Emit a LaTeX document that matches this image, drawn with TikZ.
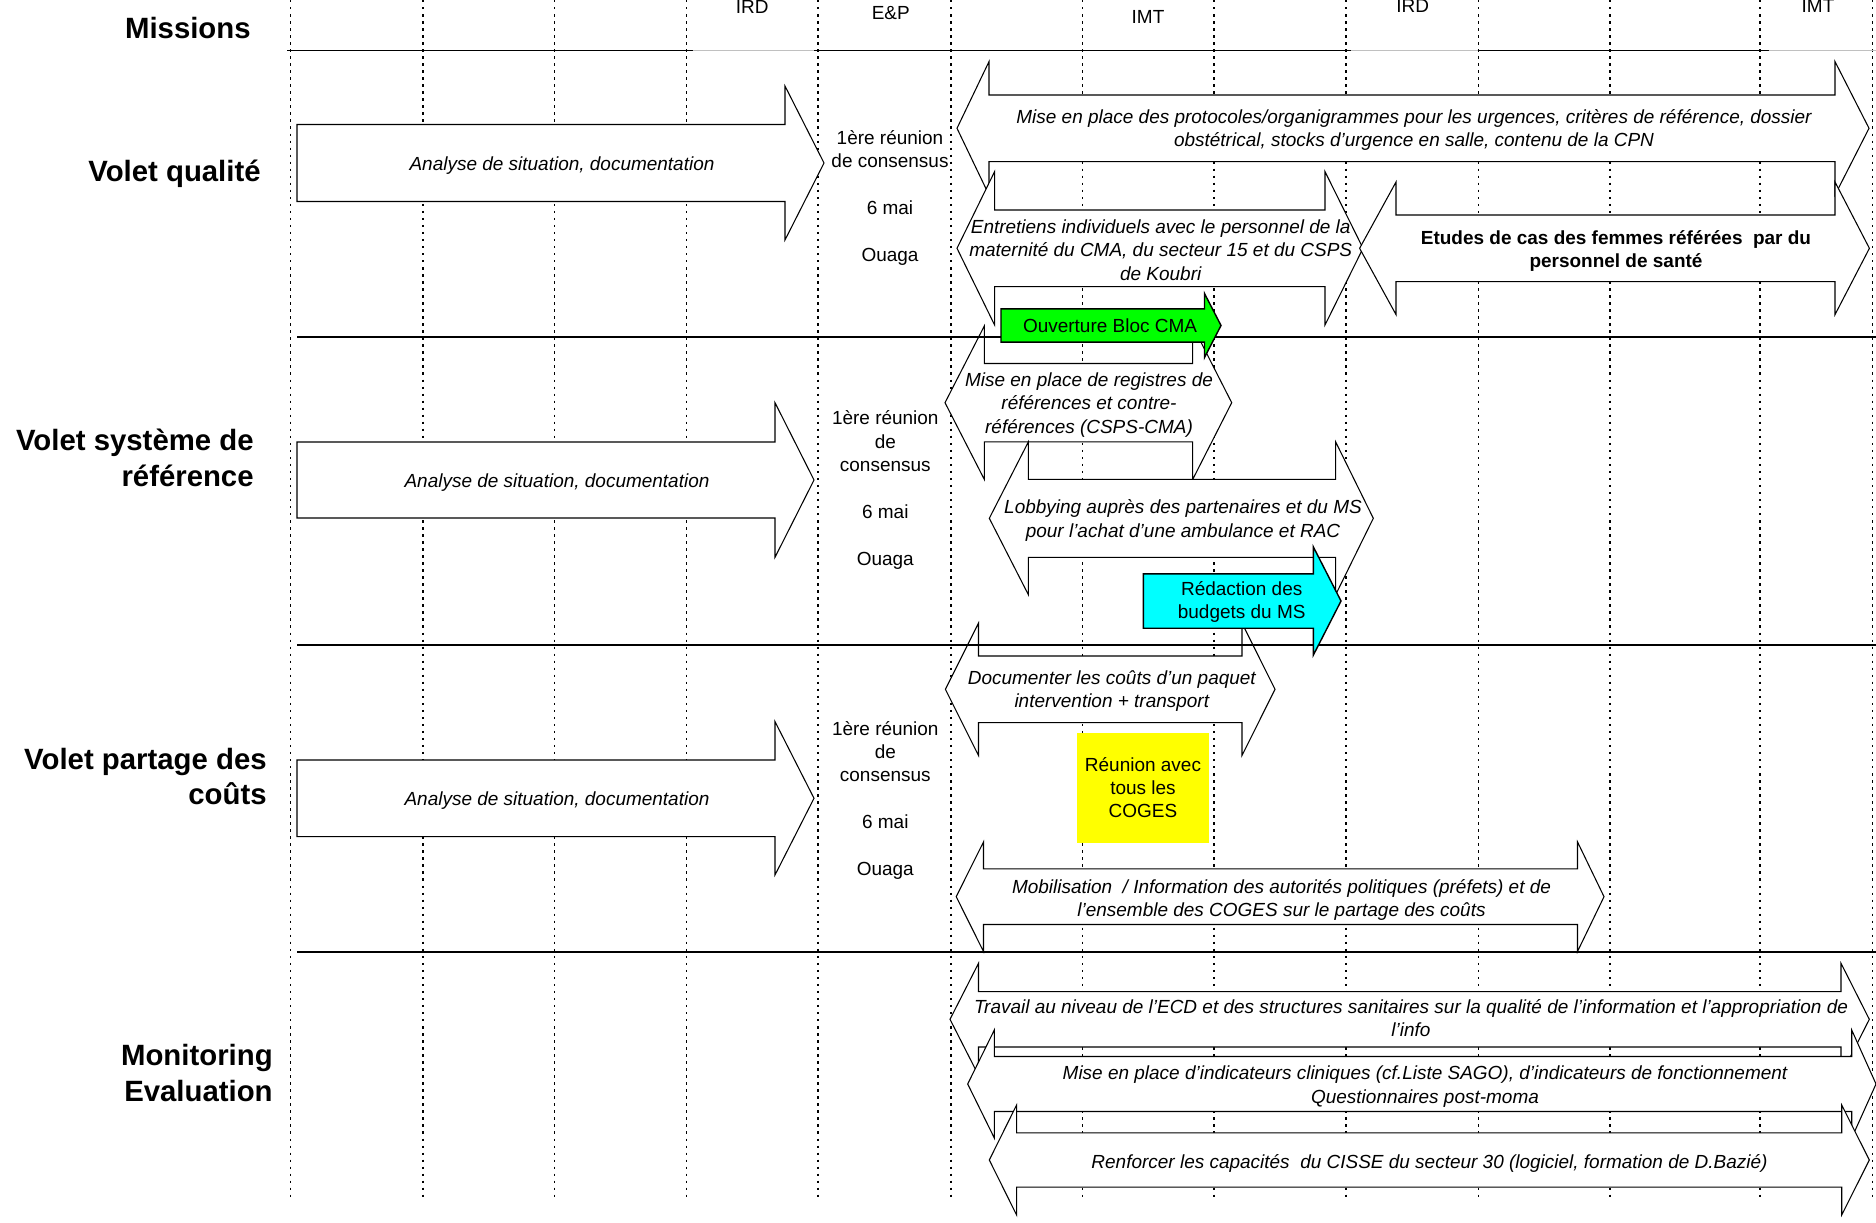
\documentclass[tikz,border=0pt]{standalone}
\usepackage{fontspec}
\setmainfont{Liberation Sans}
\usetikzlibrary{positioning}
\definecolor{flashgreen}{RGB}{0,255,0}
\definecolor{flashcyan}{RGB}{0,255,255}
\definecolor{flashyellow}{RGB}{255,255,0}
\definecolor{linegray}{RGB}{192,192,192}
% [options]{left x}{head base x}{tip x}{mid y}{shaft half}{head half}
\newcommand{\onearrow}[7][]{%
  \draw[arrowline,#1] ({#2},{#5-#6}) -- ({#3},{#5-#6}) -- ({#3},{#5-#7}) -- ({#4},{#5})
    -- ({#3},{#5+#7}) -- ({#3},{#5+#6}) -- ({#2},{#5+#6}) -- cycle;}
% [options]{left tip}{left base}{right base}{right tip}{mid y}{shaft half}{head half}
\newcommand{\twoarrow}[8][]{%
  \draw[arrowline,#1] ({#2},{#6}) -- ({#3},{#6-#8}) -- ({#3},{#6-#7}) -- ({#4},{#6-#7})
    -- ({#4},{#6-#8}) -- ({#5},{#6}) -- ({#4},{#6+#8}) -- ({#4},{#6+#7}) -- ({#3},{#6+#7})
    -- ({#3},{#6+#8}) -- cycle;}
\begin{document}
\begin{tikzpicture}[x=0.02cm, y=-0.02cm,
  arrowline/.style={draw=black, fill=white, line width=0.6pt},
  dotline/.style={line width=0.9pt, dash pattern=on 1.4pt off 2.6pt},
  header/.style={line width=1.1pt},
  section/.style={line width=1.1pt},
  small/.style={font=\fontsize{10.8}{13.3}\selectfont, align=center, inner sep=0pt},
  task/.style={small, font=\fontsize{10.8}{13.3}\selectfont\itshape},
  volet/.style={font=\fontsize{16.7}{20.4}\selectfont\bfseries, align=right, anchor=east, inner sep=0pt}]

\fill[white] (0,0) rectangle (1876,1223);
\useasboundingbox (0,0) rectangle (1876,1223);

\foreach \gx in {290.7,422.8,554.3,686.4,818.2,950.7,1082.5,1214,1346.2,1478.3,1610.2,1759.8,1872.4}
  \draw[dotline] (\gx,0) -- (\gx,1200);
\foreach \xa/\xb/\col in {287/692.6/black, 692.6/814.3/linegray, 814.3/1350.5/black,
    1350.5/1477.8/linegray, 1477.8/1768.6/black, 1768.6/1876/linegray}
  \draw[header, draw=\col] (\xa,50.5) -- (\xb,50.5);

\onearrow{297}{785}{824}{163}{38.5}{77}
\onearrow{297}{775}{814}{480}{38}{77.3}
\onearrow{297}{775}{814}{798.3}{38.3}{76.7}
\twoarrow{957}{989}{1835}{1869}{128.3}{33.3}{66.7}
\twoarrow{957}{994.6}{1325}{1363}{248.3}{38.3}{76.7}
\twoarrow{1359.6}{1396}{1835}{1869.4}{248.3}{33.3}{66.3}
\twoarrow{945}{984.3}{1192.7}{1231.7}{402.7}{39.2}{76.7}
\twoarrow{989.3}{1028.3}{1335.7}{1373.3}{518.3}{39}{76.3}
\twoarrow{945.4}{978.5}{1242}{1275}{689.3}{33.3}{66.2}
\twoarrow{956.2}{983.5}{1577.5}{1604}{896.7}{27.8}{54.8}
\twoarrow{950}{978.5}{1841}{1869.3}{1019.3}{27.7}{56}
\twoarrow{967.7}{994.3}{1851.7}{1876}{1084}{27.5}{54}
\twoarrow{989.3}{1016.6}{1841.7}{1869.3}{1160}{27.2}{55}

\foreach \sy in {337.4,645,952.3}
  \draw[section] (297,\sy) -- (1876,\sy);

\onearrow[fill=flashgreen, line width=0.8pt]{1001}{1204.5}{1221}{325.5}{16.6}{32}
\onearrow[fill=flashcyan, line width=0.8pt]{1143.3}{1313.3}{1341}{601}{27.2}{54.2}
\node[small, fill=flashyellow, minimum width=2.64cm, minimum height=2.2cm] (coges) at (1143,787.7)
  {Réunion avec\\tous les\\COGES};

\node[volet] (missions) at (251,28) {Missions};
\node[volet] (qualite) at (261,174) {Volet qualité};
\node[volet] (systeme) at (254,457.5) {Volet système de\\référence};
\node[volet] (partage) at (267,776.5) {Volet partage des\\coûts};
\node[volet] (monitoring) at (273,1073) {Monitoring\\Evaluation};

\node[small] (irdA) at (752.3,6.7) {IRD};
\node[small] (ep) at (890.8,13.3) {E\&P};
\node[small] (imtA) at (1148,16.7) {IMT};
\node[small] (irdB) at (1412.6,6) {IRD};
\node[small] (imtB) at (1818,6) {IMT};

\node[small] (consQ) at (890,198) {1ère réunion\\de consensus\\[13.3pt]6 mai\\[13.3pt]Ouaga};
\node[small] (consS) at (885.3,490) {1ère réunion\\de\\consensus\\[13.3pt]6 mai\\[13.3pt]Ouaga};
\node[small] (consP) at (885.3,800.2) {1ère réunion\\de\\consensus\\[13.3pt]6 mai\\[13.3pt]Ouaga};

\node[task] (analyseQ) at (562,165.4) {Analyse de situation, documentation};
\node[task] (analyseS) at (557,482.4) {Analyse de situation, documentation};
\node[task] (analyseP) at (557,800.7) {Analyse de situation, documentation};

\node[task] (protocoles) at (1414,130) {Mise en place des protocoles/organigrammes pour les urgences, critères de référence, dossier\\obstétrical, stocks d'urgence en salle, contenu de la CPN};
\node[task] (entretiens) at (1160.7,250) {Entretiens individuels avec le personnel de la\\maternité du CMA, du secteur 15 et du CSPS\\de Koubri};
\node[small, font=\fontsize{10.8}{13.3}\selectfont\bfseries] (etudes) at (1616,251.2) {Etudes de cas des femmes référées\ \ par du\\personnel de santé};
\node[small] (bloc) at (1110,326.2) {Ouverture Bloc CMA};
\node[task] (registres) at (1089,405) {Mise en place de registres de\\références et contre-\\références (CSPS-CMA)};
\node[task] (lobbying) at (1183,520.4) {Lobbying auprès des partenaires et du MS\\pour l'achat d'une ambulance et RAC};
\node[small] (budgets) at (1241.7,601.7) {Rédaction des\\budgets du MS};
\node[task] (couts) at (1111.8,691.1) {Documenter les coûts d'un paquet\\intervention + transport};
\node[task] (mobilisation) at (1281.5,899.7) {Mobilisation\ \ / Information des autorités politiques (préfets) et de\\l'ensemble des COGES sur le partage des coûts};
\node[task] (travail) at (1411,1018) {Travail au niveau de l'ECD et des structures sanitaires sur la qualité de l'information et l'appropriation de\\l'info};
\node[task] (indicateurs) at (1425,1086.5) {Mise en place d'indicateurs cliniques (cf.Liste SAGO), d'indicateurs de fonctionnement\\Questionnaires post-moma};
\node[task] (capacites) at (1429.5,1163) {Renforcer les capacités\ \ du CISSE du secteur 30 (logiciel, formation de D.Bazié)};
\end{tikzpicture}
\end{document}
